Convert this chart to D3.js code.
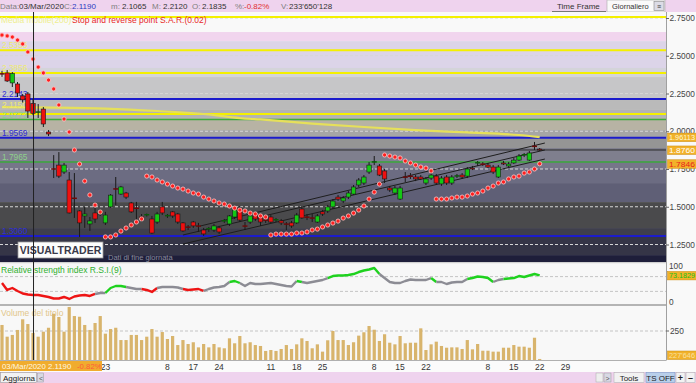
<!DOCTYPE html>
<html><head><meta charset="utf-8">
<script src="https://cdn.jsdelivr.net/npm/d3@7/dist/d3.min.js"></script>
<style>body{margin:0;background:#fff;overflow:hidden}svg{display:block;font-family:"Liberation Sans",Arial,sans-serif}</style>
</head><body><svg id="c" width="696" height="383"></svg>
<script>
// ---------------- DATA ----------------
const openP = [2.385,2.386,2.320,2.313,2.234,2.247,2.1835,2.125,2.147,1.995,
1.752,1.776,1.730,1.677,1.560,1.472,1.439,1.386,1.459,1.452,
1.393,1.499,1.620,1.584,1.591,1.525,1.492,1.434,1.445,1.419,
1.399,1.499,1.437,1.466,1.452,1.393,1.367,1.399,1.373,1.346,
1.353,1.346,1.360,1.405,1.386,1.432,1.492,1.374,1.399,1.445,
1.426,1.413,1.432,1.410,1.406,1.387,1.393,1.393,1.485,1.433,
1.427,1.399,1.466,1.472,1.499,1.564,1.538,1.564,1.584,1.644,
1.657,1.730,1.795,1.770,1.737,1.624,1.591,1.551,1.698,1.704,
1.697,1.697,1.657,1.690,1.703,1.651,1.697,1.657,1.702,1.710,
1.703,1.756,1.789,1.784,1.776,1.763,1.697,1.790,1.770,1.790,
1.809,1.842,1.809,1.902,1.882];
const highP = [2.400,2.405,2.392,2.326,2.247,2.260,2.212,2.180,2.160,2.008,
1.842,1.862,1.790,1.730,1.723,1.478,1.499,1.432,1.492,1.479,
1.466,1.584,1.697,1.638,1.598,1.532,1.532,1.452,1.455,1.439,
1.466,1.532,1.452,1.472,1.459,1.399,1.379,1.406,1.393,1.360,
1.366,1.386,1.373,1.419,1.445,1.492,1.505,1.399,1.452,1.459,
1.439,1.426,1.445,1.426,1.419,1.399,1.406,1.459,1.505,1.452,
1.452,1.452,1.479,1.512,1.551,1.578,1.571,1.604,1.644,1.690,
1.710,1.796,1.836,1.783,1.750,1.638,1.638,1.638,1.730,1.723,
1.710,1.710,1.697,1.723,1.717,1.703,1.710,1.710,1.717,1.723,
1.763,1.770,1.803,1.796,1.790,1.776,1.776,1.803,1.796,1.823,
1.849,1.856,1.869,1.929,1.889];
const lowP = [2.360,2.326,2.293,2.227,2.190,2.088,2.1065,2.088,2.028,1.968,
1.690,1.690,1.717,1.455,1.426,1.300,1.360,1.340,1.393,1.439,
1.379,1.492,1.512,1.578,1.551,1.459,1.412,1.399,1.435,1.320,
1.386,1.445,1.426,1.426,1.386,1.333,1.346,1.360,1.333,1.307,
1.333,1.333,1.320,1.393,1.373,1.419,1.399,1.346,1.386,1.406,
1.373,1.393,1.393,1.399,1.379,1.346,1.360,1.386,1.419,1.412,
1.399,1.393,1.439,1.459,1.485,1.538,1.525,1.551,1.578,1.631,
1.644,1.717,1.776,1.703,1.657,1.598,1.578,1.545,1.664,1.684,
1.670,1.677,1.644,1.677,1.644,1.638,1.644,1.644,1.690,1.684,
1.690,1.743,1.770,1.770,1.756,1.717,1.690,1.776,1.763,1.783,
1.803,1.829,1.803,1.876,1.869];
const closeP = [2.380,2.333,2.383,2.253,2.208,2.134,2.119,2.127,2.048,1.982,
1.750,1.703,1.776,1.459,1.556,1.393,1.452,1.406,1.419,1.466,
1.445,1.577,1.618,1.631,1.564,1.466,1.490,1.430,1.447,1.326,
1.452,1.459,1.441,1.439,1.399,1.340,1.365,1.373,1.372,1.320,
1.355,1.373,1.333,1.407,1.439,1.479,1.412,1.372,1.439,1.419,
1.399,1.411,1.399,1.414,1.393,1.385,1.373,1.445,1.426,1.431,
1.425,1.439,1.452,1.499,1.538,1.551,1.558,1.591,1.631,1.677,
1.697,1.776,1.797,1.710,1.684,1.611,1.624,1.624,1.696,1.702,
1.684,1.684,1.684,1.710,1.657,1.690,1.657,1.697,1.704,1.697,
1.750,1.750,1.791,1.782,1.763,1.730,1.763,1.783,1.783,1.809,
1.836,1.844,1.856,1.900,1.876];
const sarP = [2.637,2.631,2.624,2.604,2.578,2.525,2.478,2.425,2.386,2.339,
2.280,2.174,2.081,1.995,1.876,1.783,1.670,1.578,1.511,1.465,
1.300,1.300,1.313,1.339,1.359,1.379,1.399,1.419,
1.703,1.697,1.677,1.664,1.650,1.637,1.624,1.617,1.604,1.591,1.584,1.564,1.551,1.538,1.525,1.518,1.505,1.491,1.478,1.472,1.458,1.452,1.439,1.432,
1.313,1.319,1.319,1.319,1.319,1.326,1.326,1.333,1.346,1.352,1.366,1.379,1.392,1.405,1.425,1.439,1.458,1.478,1.505,1.551,1.597,1.650,
1.843,1.836,1.829,1.823,1.803,1.790,1.776,1.763,1.756,1.737,
1.551,1.551,1.551,1.558,1.564,1.564,1.571,1.584,1.591,1.604,1.624,1.637,1.657,1.664,1.684,1.697,1.703,1.723,1.730,1.750,1.7846];
const rsiV = [52.7,33.8,39.2,31.1,24.3,21.6,20.3,20.3,17.6,14.9,
10.8,10.8,14.9,9.5,16.2,18.9,20.3,17.6,23.0,25.7,
25.7,39.2,44.6,44.6,41.9,39.2,36.5,36.5,33.8,28.4,
39.2,41.9,41.9,41.9,40.5,36.5,33.8,35.1,36.5,31.1,
36.5,40.5,41.9,44.6,55.4,58.1,52.7,44.6,52.7,50.0,
50.0,51.4,52.7,50.0,47.3,44.6,43.2,58.1,55.4,52.7,
55.4,58.1,60.8,66.2,71.6,73.0,73.0,74.3,77.0,82.4,
86.5,89.2,93.2,77.0,66.2,55.4,52.7,52.7,58.1,62.2,
60.8,60.8,60.8,66.2,55.4,55.4,50.0,54.1,55.4,55.4,
63.5,66.2,70.3,68.9,66.2,55.4,60.8,63.5,64.9,66.2,
71.6,68.9,73.0,77.0,73.18];
const rsiStateStart = [0,18,20,24,27,30,35,39,44,46,57,58,63,73,83,84,90,95,97];
const rsiState      = [-1,0,1,0,-1,0,-1,0,1,0,1,0,1,0,1,0,1,0,1];
const volumeM = [302,201,216,259,351,310,233.65,201,244,278,
399,371,244,457,379,373,302,259,319,379,
227,267,278,172,172,216,216,172,201,267,
201,241,181,207,129,172,138,153,109,138,
109,138,109,101,187,144,207,144,153,129,
121,78,86,78,95,129,95,135,187,164,
101,135,72,170,250,172,172,129,153,210,
239,293,261,164,222,149,135,207,144,149,
149,273,86,135,158,121,106,109,109,95,
172,92,138,80,80,72,72,106,106,129,
115,115,106,192,9];
const maIdx = [0,10,20,30,40,46,50,60,70,80,90,100,104];
const maVal = [2.160,2.157,2.150,2.134,2.111,2.087,2.078,2.051,2.028,2.008,1.992,1.975,1.9611];
const levelVal  = [2.757,2.5356,2.3856,2.2143,2.1150,2.0773,1.9569,1.7965,1.3060];
const levelKind = ['y','y','y','b','y','g','b','g','b'];
const chanI0 = [38.3,35,35], chanP0 = [1.372,1.313,1.253];
const chanI1 = [105,105,105], chanP1 = [1.922,1.876,1.816];
const priceTicks = [2.75,2.5,2.25,2.0,1.75,1.5,1.25];
const dateTickIdx = [20,32,37,42,52,57,62,72,77,82,94,99,104,109];
const dateTickLab = ["23","8","17","24","11","18","25","8","15","22","8","15","22","29"];
const bandEdges = [2.80,2.657,2.597,2.419,2.359,2.207,2.141,2.088,2.008,1.955,1.889,1.809,1.756,1.657,1.531,1.359,1.300,1.180,1.10];
const bandColors = ["#f9f9f9","#f1d5ee","#dcd4e8","#d4d4d9","#c6c6c8","#bababa","#b3b3b3","#b7b3a4","#a6a6a6","#959595","#7f7f8e","#767689","#6c6c82","#5f5f76","#4a4a4c","#3f3f4c","#353547","#1e1e3a"];
const lastClose = 1.8760, lastMA = 1.96113, lastSar = 1.7846, lastRsi = 73.1829;

// ---------------- LAYOUT ----------------
const svg = d3.select('#c');
const PR = 666, MT = 12, MB = 262;
const x = d3.scaleLinear().domain([0,124]).range([2, 2+5.17*124]);
const y = d3.scaleLinear().domain([1.25,2.75]).range([244.5,18]);
const yR = d3.scaleLinear().domain([0,100]).range([302.5,265.5]);
const yV = d3.scaleLinear().domain([0,250]).range([360,331]);
const FONT = '"Liberation Sans",Arial,sans-serif';

svg.append('rect').attr('width',696).attr('height',383).attr('fill','#fbfbfb');
const defs = svg.append('defs');
defs.append('clipPath').attr('id','mc').append('rect').attr('x',0).attr('y',MT).attr('width',PR).attr('height',MB-MT);
defs.append('clipPath').attr('id','rc').append('rect').attr('x',0).attr('y',263).attr('width',PR).attr('height',41);

// top bar
svg.append('rect').attr('x',0).attr('y',0).attr('width',696).attr('height',12).attr('fill','#efd3ee');
const topTxt = [["Data:",0,"#808080"],["03/Mar/2020",19,"#333"],["C:",64,"#808080"],["2.1190",72,"#2a3cc0"],
 ["m:",111,"#808080"],["2.1065",122,"#333"],["M:",152,"#808080"],["2.2120",163,"#333"],["O:",192,"#808080"],["2.1835",202,"#333"],
 ["%:",235,"#808080"],["-0.82%",244,"#e03030"],["V:",281,"#808080"],["233'650'128",289,"#333"]];
svg.selectAll('.tt').data(topTxt).enter().append('text').attr('x',d=>d[1]).attr('y',9).attr('fill',d=>d[2])
  .attr('font-size',8).text(d=>d[0]);
svg.append('text').attr('x',557).attr('y',9).attr('font-size',8).attr('fill','#333').text('Time Frame');
svg.append('line').attr('x1',552).attr('x2',606).attr('y1',11.5).attr('y2',11.5).attr('stroke','#777');
svg.append('rect').attr('x',607).attr('y',0).attr('width',58).attr('height',12).attr('fill','#fafafa').attr('stroke','#aaa').attr('stroke-width',0.6);
svg.append('text').attr('x',612).attr('y',9).attr('font-size',7.5).attr('fill','#333').text('Giornaliero');
svg.append('rect').attr('x',654).attr('y',1.5).attr('width',10).attr('height',9).attr('fill','#dcdce6').attr('stroke','#888').attr('stroke-width',0.6);
svg.append('text').attr('x',659).attr('y',9).attr('font-size',7).attr('text-anchor','middle').attr('fill','#333').text('≡');

// main plot
const main = svg.append('g').attr('clip-path','url(#mc)');
main.selectAll('.band').data(bandColors).enter().append('rect')
  .attr('x',0).attr('width',PR).attr('y',(c,i)=>y(bandEdges[i])).attr('height',(c,i)=>y(bandEdges[i+1])-y(bandEdges[i])).attr('fill',c=>c);
main.selectAll('.grid').data(priceTicks).enter().append('line').attr('x1',0).attr('x2',PR)
  .attr('y1',d=>y(d)).attr('y2',d=>y(d)).attr('stroke','#d6d6d6').attr('stroke-dasharray','3,2').attr('stroke-width',1);
const lvColor = {y:'#f4f000', b:'#1c1ccc', g:'#3caa3c'};
main.selectAll('.lv').data(levelVal).enter().append('line').attr('x1',0).attr('x2',PR)
  .attr('y1',d=>y(d)).attr('y2',d=>y(d)).attr('stroke',(d,i)=>lvColor[levelKind[i]]).attr('stroke-width',(d,i)=>levelKind[i]==='g'?1.5:2);
main.append('line').attr('x1',0).attr('x2',PR).attr('y1',y(lastClose)).attr('y2',y(lastClose)).attr('stroke','#2a2a2a').attr('stroke-width',1);
// moving average
main.append('path').datum(maIdx.map((d,i)=>[d,maVal[i]]))
  .attr('d',d3.line().x(d=>x(d[0])).y(d=>y(d[1])).curve(d3.curveMonotoneX))
  .attr('fill','none').attr('stroke','#e6e05a').attr('stroke-width',2.2);
// level labels (pushed apart when they would collide)
const lblColor = {y:'#eeea70', b:'#2e2ed8', g:'#8ed08a'};
const lblY = levelVal.map(d=>y(d)-2);
for (let i=lblY.length-2;i>=1;i--){ if (lblY[i+1]-lblY[i] < 9.5) lblY[i] = lblY[i+1]-9.5; }
main.selectAll('.ll').data(levelVal.slice(1)).enter().append('text').attr('x',2).attr('y',(d,i)=>lblY[i+1])
  .attr('font-size',8.3).attr('fill',(d,i)=>lblColor[levelKind[i+1]]).text(d=>d.toFixed(4));
main.append('text').attr('x',1).attr('y',23).attr('font-size',8.5).attr('fill','#eeee90').text('Media mobile(200)');
main.append('text').attr('x',72).attr('y',23).attr('font-size',8.5).attr('fill','#e82a2a').text('Stop and reverse point S.A.R.(0.02)');
// channel lines
main.selectAll('.ch').data(chanI0).enter().append('line')
  .attr('x1',(d,i)=>x(chanI0[i])).attr('y1',(d,i)=>y(chanP0[i])).attr('x2',(d,i)=>x(chanI1[i])).attr('y2',(d,i)=>y(chanP1[i]))
  .attr('stroke','#1e1e1e').attr('stroke-width',1);
// candles
const idx = d3.range(openP.length);
const cg = main.append('g');
idx.forEach(i=>{
  const o=openP[i], c=closeP[i], cx=x(i);
  cg.append('line').attr('x1',cx).attr('x2',cx).attr('y1',y(highP[i])).attr('y2',y(lowP[i])).attr('stroke','#1a1a1a').attr('stroke-width',1);
  if (Math.abs(c-o) < 0.005) {
    cg.append('line').attr('x1',cx-2.5).attr('x2',cx+2.5).attr('y1',y(c)).attr('y2',y(c)).attr('stroke',c>=o?'#0a5a0a':'#6a0a0a').attr('stroke-width',1.5);
  } else {
    const t=y(Math.max(o,c)), b=y(Math.min(o,c));
    cg.append('rect').attr('x',cx-2.2).attr('width',4.4).attr('y',t).attr('height',Math.max(1,b-t))
      .attr('fill',c>=o?'#14c814':'#ee1010').attr('stroke','#1a1a1a').attr('stroke-width',0.6);
  }
});
// SAR
main.selectAll('.sar').data(sarP).enter().append('circle').attr('cx',(d,i)=>x(i)).attr('cy',d=>y(d)).attr('r',2.1)
  .attr('fill','#ff1e1e').attr('stroke','#ffc8c8').attr('stroke-width',0.8);
// logo
main.append('rect').attr('x',18).attr('y',242).attr('width',85).attr('height',16).attr('fill','#fdfdfd').attr('stroke','#999').attr('stroke-width',0.8);
main.append('text').attr('x',60.5).attr('y',254).attr('text-anchor','middle').attr('font-size',10.5).attr('font-weight','bold').attr('fill','#3a3a4a').text('VISUALTRADER');
main.append('text').attr('x',108).attr('y',260).attr('font-size',7.5).attr('fill','#8a8a9a').text('Dati di fine giornata');

// right axis strip
svg.append('rect').attr('x',PR).attr('y',MT).attr('width',696-PR).attr('height',349).attr('fill','#f9f9f9');
svg.append('line').attr('x1',PR+0.5).attr('x2',PR+0.5).attr('y1',MT).attr('y2',361).attr('stroke','#a0a0a0');
const ax = svg.append('g').attr('transform',`translate(${PR},0)`).call(d3.axisRight(y).tickValues(priceTicks).tickFormat(d3.format('.4f')).tickSize(3).tickPadding(0.5));
ax.select('.domain').remove();
ax.selectAll('text').attr('font-size',8.3).attr('font-family',FONT).attr('fill','#444');
ax.selectAll('line').attr('stroke','#666');

function valBox(yc, txt, fill, col){
  svg.append('rect').attr('x',PR+1.5).attr('y',yc-4).attr('width',29).attr('height',8.5).attr('fill',fill).attr('stroke','#c88a10').attr('stroke-width',0.5);
  svg.append('text').attr('x',PR+3).attr('y',yc+3).attr('font-size',7.5).attr('fill',col).attr('textLength',26).attr('lengthAdjust','spacingAndGlyphs').text(txt);
}
valBox(y(lastMA), '1.96113', '#f2b22a', '#fff8d0');
valBox(y(lastClose), '1.8760', '#f2b22a', '#ffffff');
valBox(y(lastSar), '1.7846', '#f2b22a', '#e81c1c');

// separators
svg.append('rect').attr('x',0).attr('y',MB).attr('width',PR).attr('height',1.5).attr('fill','#d0d0d0');

// RSI panel
svg.append('rect').attr('x',0).attr('y',263.5).attr('width',PR).attr('height',40.5).attr('fill','#f7f7f7');
svg.selectAll('.rg').data([70,30]).enter().append('line').attr('x1',0).attr('x2',PR).attr('y1',d=>yR(d)).attr('y2',d=>yR(d))
  .attr('stroke','#c4c4c4').attr('stroke-dasharray','3,2');
svg.append('text').attr('x',1).attr('y',273).attr('font-size',8.5).attr('fill','#2fb02f').text('Relative strength index R.S.I.(9)');
const rsiCol = {'-1':'#ee1414','0':'#8c8c94','1':'#1ed21e'};
const rg = svg.append('g').attr('clip-path','url(#rc)');
rsiStateStart.forEach((s,k)=>{
  const e = k+1<rsiStateStart.length ? rsiStateStart[k+1] : rsiV.length-1;
  const pts = d3.range(s, e+1);
  rg.append('path').datum(pts).attr('d',d3.line().x(i=>x(i)).y(i=>yR(rsiV[i])))
    .attr('fill','none').attr('stroke',rsiCol[rsiState[k]]).attr('stroke-width',2.4).attr('stroke-linejoin','round');
});
svg.append('text').attr('x',PR+3).attr('y',yR(100)+3).attr('font-size',8.3).attr('fill','#444').text('100');
svg.append('text').attr('x',PR+3).attr('y',yR(0)+2).attr('font-size',8.3).attr('fill','#444').text('0');
valBox(yR(lastRsi), '73.1829', '#f2b22a', '#18c018');
svg.append('rect').attr('x',0).attr('y',304).attr('width',PR).attr('height',2).attr('fill','#b4b4b4');

// Volume panel
svg.append('rect').attr('x',0).attr('y',306).attr('width',PR).attr('height',55).attr('fill','#f8f8f8');
svg.append('line').attr('x1',0).attr('x2',PR).attr('y1',yV(250)).attr('y2',yV(250)).attr('stroke','#c4c4c4').attr('stroke-dasharray','3,2');
svg.append('text').attr('x',1).attr('y',316).attr('font-size',8.5).attr('fill','#e2c68a').text('Volume del titolo');
svg.selectAll('.vb').data(volumeM).enter().append('rect').attr('x',(d,i)=>x(i)-1.6).attr('width',3.2)
  .attr('y',d=>yV(d)).attr('height',d=>yV(0)-yV(d)).attr('fill','#d8b46c');
svg.append('line').attr('x1',PR).attr('x2',PR+3).attr('y1',yV(250)).attr('y2',yV(250)).attr('stroke','#666');
svg.append('text').attr('x',PR+4).attr('y',yV(250)+3).attr('font-size',8.3).attr('fill','#444').text('250');
valBox(355, "227'646", '#f2b22a', '#f8e0a0');

// crosshair
svg.append('line').attr('x1',x(6)+0.5).attr('x2',x(6)+0.5).attr('y1',MT).attr('y2',361).attr('stroke','#222').attr('stroke-width',1);

// date axis
svg.append('rect').attr('x',0).attr('y',360.5).attr('width',696).attr('height',11.5).attr('fill','#fbfbfb');
svg.append('line').attr('x1',0).attr('x2',PR).attr('y1',360.5).attr('y2',360.5).attr('stroke','#b0b0b0');
svg.selectAll('.dt').data(dateTickIdx).enter().append('text').attr('x',d=>x(d)).attr('y',370)
  .attr('text-anchor','middle').attr('font-size',8.5).attr('fill','#333').text((d,i)=>dateTickLab[i]);
svg.append('rect').attr('x',0).attr('y',361).attr('width',102).attr('height',10).attr('fill','#f0ac2e');
svg.append('text').attr('x',2).attr('y',369).attr('font-size',7.8).attr('fill','#fff8e0').text('03/Mar/2020 2.1190');
svg.append('text').attr('x',77).attr('y',369).attr('font-size',7.8).attr('fill','#ff5a3a').text('-0.82%');

// bottom toolbar
svg.append('rect').attr('x',0).attr('y',372).attr('width',696).attr('height',11).attr('fill','#efd3ee');
svg.append('rect').attr('x',0.5).attr('y',372.5).attr('width',36).attr('height',10).attr('fill','#f2f2f2').attr('stroke','#999').attr('stroke-width',0.6);
svg.append('text').attr('x',3).attr('y',381).attr('font-size',8).attr('fill','#222').text('Aggiorna');
svg.append('rect').attr('x',37.5).attr('y',373).attr('width',6).attr('height',9).attr('fill','#d8d8e4').attr('stroke','#999').attr('stroke-width',0.5);
svg.append('text').attr('x',39).attr('y',380.5).attr('font-size',7).attr('fill','#555').text('<');
svg.append('rect').attr('x',596).attr('y',373).attr('width',7).attr('height',9).attr('fill','#eee').attr('stroke','#aaa').attr('stroke-width',0.5);
svg.append('rect').attr('x',604).attr('y',373).attr('width',7).attr('height',9).attr('fill','#d8d8e4').attr('stroke','#999').attr('stroke-width',0.5);
svg.append('text').attr('x',605.5).attr('y',380.5).attr('font-size',7).attr('fill','#555').text('>');
svg.append('rect').attr('x',614).attr('y',372.5).attr('width',30).attr('height',10).attr('fill','#f2f2f2').attr('stroke','#aaa').attr('stroke-width',0.5);
svg.append('text').attr('x',629).attr('y',381).attr('text-anchor','middle').attr('font-size',8).attr('fill','#222').text('Tools');
svg.append('rect').attr('x',646).attr('y',372.5).attr('width',29).attr('height',10).attr('fill','#b8cfea').attr('stroke','#7a9ac8').attr('stroke-width',0.6);
svg.append('text').attr('x',660.5).attr('y',381).attr('text-anchor','middle').attr('font-size',8).attr('fill','#222').text('TS OFF');
svg.append('rect').attr('x',676).attr('y',372.5).attr('width',9).attr('height',10).attr('fill','#f2f2f2').attr('stroke','#aaa').attr('stroke-width',0.5);
svg.append('text').attr('x',680.5).attr('y',381).attr('text-anchor','middle').attr('font-size',9).attr('font-weight','bold').attr('fill','#222').text('+');
svg.append('rect').attr('x',686).attr('y',372.5).attr('width',9).attr('height',10).attr('fill','#f2f2f2').attr('stroke','#aaa').attr('stroke-width',0.5);
svg.append('text').attr('x',690.5).attr('y',381).attr('text-anchor','middle').attr('font-size',9).attr('font-weight','bold').attr('fill','#222').text('–');
</script></body></html>
